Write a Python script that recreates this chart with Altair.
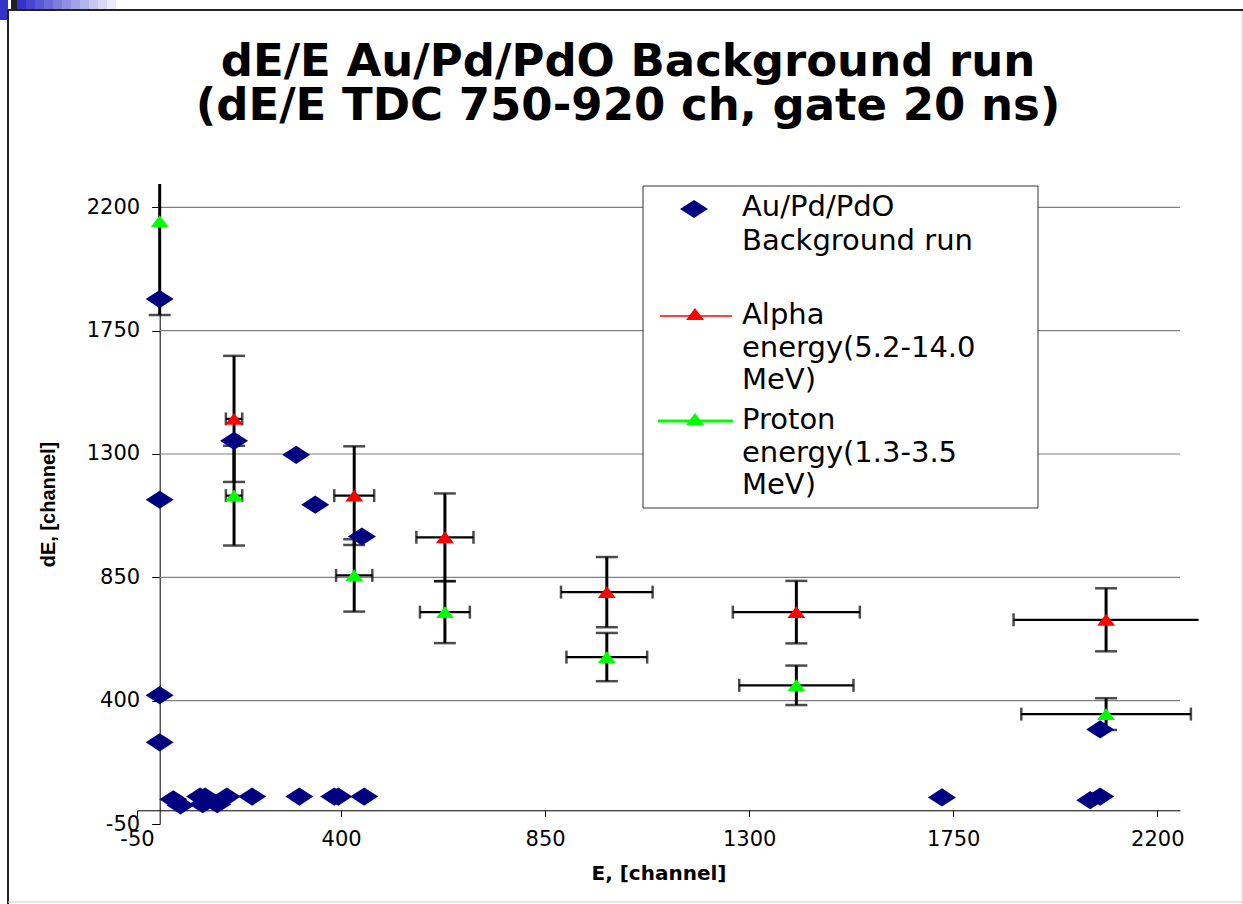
import altair as alt
import pandas as pd

# ---------------- data ----------------
# Au/Pd/PdO background run (navy diamonds)
bg_x = [0, 0, 0, 0, 164, 301, 343, 446, 30, 46, 89, 100, 95, 127, 148, 204,
        308, 385, 394, 451, 1725, 2052, 2074, 2074]
bg_y = [1865, 1133, 420, 248, 1348, 1297, 1115, 999, 40, 18, 50, 50, 22, 22, 50, 50,
        50, 50, 50, 50, 47, 37, 50, 295]

# Alpha energy (5.2-14.0 MeV) (red triangles)
alpha_x = [164, 429, 629, 986, 1404, 2087]
alpha_y = [1428, 1148, 996, 796, 723, 695]
alpha_xerr = [18, 44, 63, 101, 140, 204]
alpha_yerr = [230, 180, 160, 128, 114, 115]

# Proton energy (1.3-3.5 MeV) (green triangles)
proton_x = [0, 164, 429, 629, 986, 1404, 2087]
proton_y = [2149, 1148, 857, 723, 559, 456, 351]
proton_xerr = [0, 18, 40, 55, 89, 126, 187]
proton_yerr = [342, 182, 132, 113, 88, 72, 58]

x_ticks = [-50, 400, 850, 1300, 1750, 2200]
y_ticks = [-50, 400, 850, 1300, 1750, 2200]
grid_y = [400, 850, 1300, 1750, 2200]

X_DOMAIN = [-50, 2250]
Y_DOMAIN = [-50, 2285]
W, H = 1043, 640

TITLE = ["dE/E Au/Pd/PdO Background run", "(dE/E TDC 750-920 ch, gate 20 ns)"]
LEG_BG = ["Au/Pd/PdO", "Background run"]
LEG_ALPHA = ["Alpha", "energy(5.2-14.0", "MeV)"]
LEG_PROTON = ["Proton", "energy(1.3-3.5", "MeV)"]

NAVY = "#000080"
RED = "#FF0000"
GREEN = "#00FF00"
FONT = "DejaVu Sans"

DIAMOND = "M-1,0L0,-0.65L1,0L0,0.65Z"
TRIANGLE = "M-1,0.66L1,0.66L0,-0.66Z"

# ---------------- frames ----------------
bg_df = pd.DataFrame({"x": bg_x, "y": bg_y})
err_df = pd.concat([
    pd.DataFrame({"x": alpha_x, "y": alpha_y, "xerr": alpha_xerr, "yerr": alpha_yerr,
                  "series": "alpha"}),
    pd.DataFrame({"x": proton_x, "y": proton_y, "xerr": proton_xerr, "yerr": proton_yerr,
                  "series": "proton"}),
], ignore_index=True)
grid_df = pd.DataFrame({"y": grid_y})
one = pd.DataFrame({"k": [0]})

xs = alt.Scale(domain=X_DOMAIN, nice=False, zero=False)
ys = alt.Scale(domain=Y_DOMAIN, nice=False, zero=False)

x_axis = alt.Axis(values=x_ticks, offset=-(50 * H / (Y_DOMAIN[1] - Y_DOMAIN[0])),
                  grid=False, domainColor="black", domainWidth=1, tickColor="black",
                  tickSize=6, labelFont=FONT, labelFontSize=21, labelColor="black",
                  labelPadding=12, labelFlush=False, labelExpr="'' + datum.value",
                  title="E, [channel]", titleFont=FONT, titleFontSize=20,
                  titleFontWeight="bold", titleColor="black", titlePadding=14)
y_axis = alt.Axis(values=y_ticks, offset=-(50 * W / (X_DOMAIN[1] - X_DOMAIN[0])),
                  grid=False, domainColor="black", domainWidth=1, tickColor="black",
                  tickSize=8, labelFont=FONT, labelFontSize=21, labelColor="black",
                  labelPadding=12, labelFlush=False, labelExpr="'' + datum.value",
                  title="dE, [channel]", titleFont="Liberation Sans", titleFontSize=20,
                  titleFontWeight="bold", titleColor="black", titlePadding=28)


def X(field):
    return alt.X(field, scale=xs, axis=x_axis)


def Y(field):
    return alt.Y(field, scale=ys, axis=y_axis)


# gridlines from the vertical axis (x=0) to the right end
grid = alt.Chart(grid_df).transform_calculate(
    x0="0", x1=str(X_DOMAIN[1])
).mark_rule(color="#808080", strokeWidth=1.2).encode(
    y=Y("y:Q"), x=X("x0:Q"), x2="x1:Q",
)

base_err = alt.Chart(err_df).transform_calculate(
    xlo="datum.x - datum.xerr", xhi="datum.x + datum.xerr",
    ylo="datum.y - datum.yerr", yhi="datum.y + datum.yerr",
)

vbar = base_err.mark_rule(color="black", strokeWidth=3, clip=True).encode(
    x=X("x:Q"), y=Y("ylo:Q"), y2="yhi:Q",
)
vcap_lo = base_err.mark_tick(color="black", orient="horizontal", size=22, thickness=2.5,
                             clip=True).encode(x=X("x:Q"), y=Y("ylo:Q"))
vcap_hi = base_err.mark_tick(color="black", orient="horizontal", size=22, thickness=2.5,
                             clip=True).encode(x=X("x:Q"), y=Y("yhi:Q"))

hbase = base_err.transform_filter("datum.xerr > 0")
hbar = hbase.mark_rule(color="black", strokeWidth=2.2).encode(
    x=X("xlo:Q"), x2="xhi:Q", y=Y("y:Q"),
)
hcap_lo = hbase.mark_tick(color="black", orient="vertical", size=13, thickness=2.5).encode(
    x=X("xlo:Q"), y=Y("y:Q"))
hcap_hi = hbase.transform_filter("datum.xhi < 2285").mark_tick(
    color="black", orient="vertical", size=13, thickness=2.5).encode(
    x=X("xhi:Q"), y=Y("y:Q"))

diamonds = alt.Chart(bg_df).mark_point(shape=DIAMOND, filled=True, size=784, color=NAVY,
                                       opacity=1).encode(x=X("x:Q"), y=Y("y:Q"))

tri_alpha = base_err.transform_filter("datum.series == 'alpha'").mark_point(
    shape=TRIANGLE, filled=True, size=324, color=RED, opacity=1).encode(
    x=X("x:Q"), y=Y("y:Q"))
tri_proton = base_err.transform_filter("datum.series == 'proton'").mark_point(
    shape=TRIANGLE, filled=True, size=324, color=GREEN, opacity=1).encode(
    x=X("x:Q"), y=Y("y:Q"))

# ---------------- legend (drawn by hand) ----------------
L, T = 137, 184


def txt(s, x, y, size=29, weight="normal", align="left", line_height=None):
    kw = {}
    if line_height is not None:
        kw["lineHeight"] = line_height
    return alt.Chart(one).mark_text(text=s, font=FONT, fontSize=size, align=align,
                                    fontWeight=weight, baseline="middle",
                                    color="black", **kw).encode(
        x=alt.value(x), y=alt.value(y))


leg_box = alt.Chart(one).mark_rect(fill="white", stroke="#333333", strokeWidth=1).encode(
    x=alt.value(506), x2=alt.value(901), y=alt.value(2), y2=alt.value(324))
leg_dia = alt.Chart(one).mark_point(shape=DIAMOND, filled=True, size=784, color=NAVY,
                                    opacity=1).encode(x=alt.value(557), y=alt.value(25))
leg_rline = alt.Chart(one).mark_rule(color=RED, strokeWidth=1.5).encode(
    x=alt.value(523), x2=alt.value(595), y=alt.value(132))
leg_rtri = alt.Chart(one).mark_point(shape=TRIANGLE, filled=True, size=324, color=RED,
                                     opacity=1).encode(x=alt.value(558), y=alt.value(130))
leg_gline = alt.Chart(one).mark_rule(color=GREEN, strokeWidth=3).encode(
    x=alt.value(521), x2=alt.value(596), y=alt.value(237))
leg_gtri = alt.Chart(one).mark_point(shape=TRIANGLE, filled=True, size=324, color=GREEN,
                                     opacity=1).encode(x=alt.value(558), y=alt.value(235))

leg_texts = [txt(LEG_BG[0], 605, 23), txt(LEG_BG[1], 605, 57),
             txt(LEG_ALPHA[0], 605, 131), txt(LEG_ALPHA[1], 605, 164),
             txt(LEG_ALPHA[2], 605, 196),
             txt(LEG_PROTON[0], 605, 236), txt(LEG_PROTON[1], 605, 269),
             txt(LEG_PROTON[2], 605, 301)]

# chart title (two lines, one text block; y is the first line's centre)
title_text = txt(TITLE, 628 - L, 62 - T, size=45, weight="bold", align="center",
                 line_height=44)

# ---------------- slide frame decoration ----------------


def rect(x0, x1, y0, y1, color):
    return alt.Chart(one).mark_rect(fill=color).encode(
        x=alt.value(x0 - L), x2=alt.value(x1 - L), y=alt.value(y0 - T), y2=alt.value(y1 - T))


frame = [rect(0, 8, 0, 20, "#3333CC")]
steps = 12
for i in range(steps):
    t = i / (steps - 1)
    r = int(0x33 + (255 - 0x33) * t)
    b = int(0xCC + (255 - 0xCC) * t)
    col = "#%02X%02X%02X" % (r, r, b)
    frame.append(rect(17 + i * 9, 17 + (i + 1) * 9, 0, 10, col))
frame += [
    rect(11, 17, 0, 10, "#222222"),
    alt.Chart(one).mark_rule(color="#222222", strokeWidth=2).encode(
        x=alt.value(8 - L), y=alt.value(10 - T), y2=alt.value(904 - T)),
    alt.Chart(one).mark_rule(color="#222222", strokeWidth=2).encode(
        x=alt.value(8 - L), x2=alt.value(1243 - L), y=alt.value(10 - T)),
    alt.Chart(one).mark_rule(color="#CCCCCC", strokeWidth=1).encode(
        x=alt.value(1242 - L), y=alt.value(11 - T), y2=alt.value(904 - T)),
    alt.Chart(one).mark_rule(color="#CCCCCC", strokeWidth=1).encode(
        x=alt.value(8 - L), x2=alt.value(1243 - L), y=alt.value(902 - T)),
]

chart = alt.layer(
    *frame, grid, vbar, hbar, vcap_lo, vcap_hi, hcap_lo, hcap_hi, diamonds,
    tri_alpha, tri_proton, leg_box, leg_dia, leg_rline, leg_rtri, leg_gline, leg_gtri,
    *leg_texts, title_text,
).properties(
    width=W, height=H,
    autosize=alt.AutoSizeParams(type="none"),
    padding={"left": L, "top": T, "right": 1243 - L - W, "bottom": 904 - T - H},
).configure(background="white").configure_view(stroke="transparent", strokeWidth=0)

chart.save("out.html", embed_options={"renderer": "svg", "actions": False})
